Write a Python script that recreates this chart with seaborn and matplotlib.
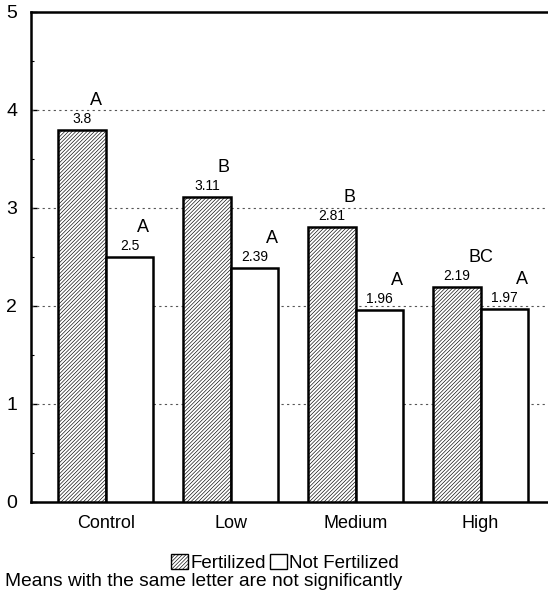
import matplotlib
matplotlib.use("Agg")
import matplotlib.pyplot as plt
import seaborn as sns
import pandas as pd
from matplotlib.patches import Patch
from matplotlib.ticker import MultipleLocator

categories = ["Control", "Low", "Medium", "High"]
fertilized = [3.8, 3.11, 2.81, 2.19]
not_fertilized = [2.5, 2.39, 1.96, 1.97]
fert_letters = ["A", "B", "B", "BC"]
notfert_letters = ["A", "A", "A", "A"]
series = ["Fertilized", "Not Fertilized"]

sns.set_theme(style="white")
plt.rcParams['font.family'] = ['Liberation Sans', 'DejaVu Sans']
plt.rcParams['hatch.linewidth'] = 0.45
plt.rcParams['hatch.color'] = '#333333'
plt.rcParams['text.color'] = 'black'
plt.rcParams['xtick.color'] = 'black'
plt.rcParams['ytick.color'] = 'black'
plt.rcParams['xtick.labelcolor'] = 'black'
plt.rcParams['ytick.labelcolor'] = 'black'

HATCH = "/" * 9

df = pd.DataFrame({
    "cat": categories * 2,
    "val": fertilized + not_fertilized,
    "series": [series[0]] * 4 + [series[1]] * 4,
})

fig = plt.figure(figsize=(5.48, 5.97), dpi=100)
ax = fig.add_axes([31/548, 1 - 502/597, 517/548, 490/597])

sns.barplot(data=df, x="cat", y="val", hue="series", order=categories,
            hue_order=series, palette=["white", "white"], width=0.76,
            edgecolor="black", linewidth=1.8, ax=ax, legend=False, zorder=3)

ax.set_ylim(0, 5)
ax.set_xlim(-0.6, 3.54)

renderer = fig.canvas.get_renderer()
letters_all = [fert_letters, notfert_letters]
for ci, cont in enumerate(ax.containers):
    for bi, bar in enumerate(cont):
        if ci == 0:
            bar.set_hatch(HATCH)
        x = bar.get_x() + bar.get_width() / 2
        h = bar.get_height()
        t = ax.annotate(f"{h:g}", (x, h), xytext=(0, 4), textcoords="offset pixels",
                        ha="center", va="bottom", fontsize=10, zorder=5)
        bb = t.get_window_extent(renderer)
        half_w = bb.width / 2
        ax.annotate(letters_all[ci][bi], (x, h), xytext=(half_w - 2, 21),
                    textcoords="offset pixels", ha="left", va="bottom",
                    fontsize=13, zorder=5)

ax.set_yticks([0, 1, 2, 3, 4, 5])
ax.yaxis.set_minor_locator(MultipleLocator(0.5))
for y in [1, 2, 3, 4]:
    ax.axhline(y, color="#555555", linestyle=(0, (2, 3)), linewidth=0.8, zorder=1)
ax.set_xlabel("")
ax.set_ylabel("")
ax.tick_params(axis="y", which="major", direction="in", length=4, width=1,
               labelsize=14, pad=10, left=True)
ax.tick_params(axis="y", which="minor", direction="in", length=2, width=0.8, left=True)
ax.tick_params(axis="x", which="major", length=0, labelsize=13, pad=9)
for s in ["left", "bottom", "top"]:
    ax.spines[s].set_color("black")
    ax.spines[s].set_linewidth(1.8)
ax.spines["right"].set_visible(False)

handles = [Patch(facecolor="white", edgecolor="black", hatch=HATCH, linewidth=1.0),
           Patch(facecolor="white", edgecolor="black", linewidth=1.0)]
fig.legend(handles, series, loc="center", bbox_to_anchor=(285/548, 1 - 563/597),
           ncol=2, frameon=False, fontsize=13.5, handlelength=0.9, handleheight=0.9,
           handletextpad=0.15, columnspacing=0.2, borderpad=0)
fig.text(5/548, 1 - 581/597, "Means with the same letter are not significantly",
         ha="left", va="center", fontsize=13.8)

fig.savefig("out.png", dpi=100)
